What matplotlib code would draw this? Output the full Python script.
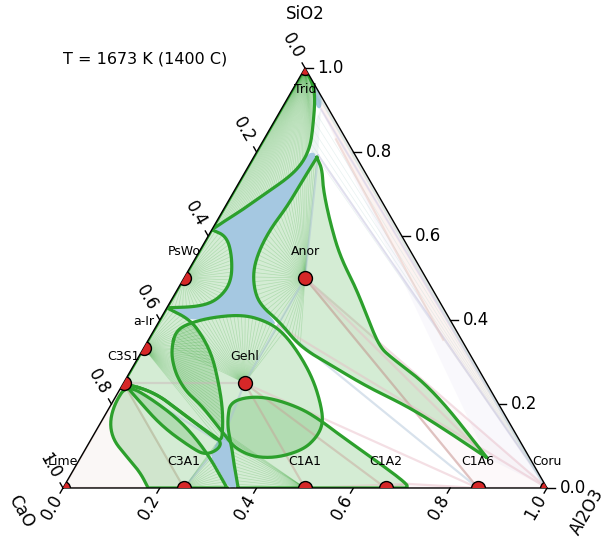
import numpy as np
import matplotlib.pyplot as plt
from matplotlib.patches import Polygon
from matplotlib.colors import to_rgba

H = np.sqrt(3) / 2

# stoichiometric phases: mole fraction of Al2O3 and SiO2 (balance CaO)
phase_names = ['Lime', 'C3S1', 'a-Ir', 'PsWo', 'Trid', 'Anor', 'Gehl',
               'C3A1', 'C1A1', 'C1A2', 'C1A6', 'Coru']
phase_al = [0.0, 0.0, 0.0, 0.0, 0.0, 0.25, 0.25, 0.25, 0.5, 2 / 3, 6 / 7, 1.0]
phase_si = [0.0, 0.25, 1 / 3, 0.5, 1.0, 0.5, 0.25, 0.0, 0.0, 0.0, 0.0, 0.0]

# liquid compositions at three-phase corners
liq_top = (0.082, 0.902)
liq_tip = (0.131, 0.792)
liq_ga = (0.251, 0.387)
liq_chan = (0.273, 0.107)
liq_c1a2 = (0.706, 0.010)
liq_c1a6 = (0.840, 0.072)

# solid + liquid regions (Al2O3, SiO2); open curves are closed along a side
trid_lens = [(0.0, 1.0), (0.036, 0.961), (0.058, 0.926), (0.086, 0.861), (0.104, 0.814),
             (0.108, 0.775), (0.098, 0.742), (0.070, 0.704), (0.040, 0.663), (0.019, 0.639),
             (0.0, 0.615)]
pswo_lens = [(0.0, 0.615), (0.039, 0.599), (0.075, 0.549), (0.103, 0.489), (0.096, 0.449),
             (0.067, 0.432), (0.0, 0.429)]
anor_left = [(0.131, 0.787), (0.129, 0.735), (0.128, 0.670), (0.120, 0.616), (0.123, 0.561),
             (0.136, 0.513), (0.164, 0.465), (0.195, 0.432), (0.252, 0.394), (0.322, 0.336),
             (0.414, 0.289), (0.508, 0.241), (0.622, 0.191), (0.734, 0.131), (0.840, 0.072)]
anor_right = [(0.131, 0.787), (0.156, 0.759), (0.182, 0.711), (0.236, 0.632), (0.297, 0.551),
              (0.371, 0.472), (0.440, 0.389), (0.487, 0.336), (0.519, 0.313), (0.648, 0.234),
              (0.840, 0.072)]
gehl_lens = [(0.057, 0.336), (0.047, 0.370), (0.058, 0.389), (0.101, 0.406), (0.166, 0.413),
             (0.224, 0.396), (0.270, 0.370), (0.331, 0.317), (0.388, 0.258), (0.434, 0.198),
             (0.460, 0.155), (0.464, 0.122), (0.451, 0.091), (0.406, 0.072), (0.356, 0.074),
             (0.308, 0.095), (0.276, 0.122), (0.229, 0.162), (0.183, 0.200), (0.143, 0.227),
             (0.103, 0.265), (0.073, 0.305)]
c1a1_lens = [(0.362, 0.0), (0.326, 0.055), (0.304, 0.091), (0.272, 0.138), (0.256, 0.169),
             (0.244, 0.203), (0.272, 0.217), (0.320, 0.215), (0.394, 0.191), (0.450, 0.162),
             (0.509, 0.126), (0.611, 0.067), (0.706, 0.010), (0.711, 0.0)]
air_lens = [(0.0, 0.429), (0.062, 0.401), (0.109, 0.360), (0.152, 0.313), (0.191, 0.258),
            (0.230, 0.198), (0.259, 0.143), (0.273, 0.107), (0.224, 0.138), (0.156, 0.179),
            (0.077, 0.227), (0.0, 0.25)]
c3s1_lens = [(0.0, 0.25), (0.077, 0.227), (0.156, 0.179), (0.224, 0.138), (0.272, 0.112),
             (0.275, 0.091), (0.254, 0.079), (0.219, 0.095), (0.132, 0.146), (0.050, 0.210)]
c3a1_lens = [(0.339, 0.0), (0.256, 0.084), (0.170, 0.155), (0.081, 0.210), (0.009, 0.246),
             (0.006, 0.203), (0.018, 0.157), (0.046, 0.115), (0.089, 0.079), (0.140, 0.038),
             (0.176, 0.0)]

# single-phase liquid
liquid_main = [(0.0, 0.615), (0.019, 0.639), (0.040, 0.663), (0.070, 0.704), (0.098, 0.742),
               (0.108, 0.775), (0.110, 0.802), (0.131, 0.792), (0.129, 0.735), (0.128, 0.670),
               (0.120, 0.616), (0.123, 0.561), (0.136, 0.513), (0.164, 0.465), (0.195, 0.432),
               (0.251, 0.387), (0.224, 0.396), (0.166, 0.413), (0.101, 0.406), (0.063, 0.398),
               (0.0, 0.429), (0.067, 0.432), (0.096, 0.449), (0.103, 0.489), (0.075, 0.549),
               (0.039, 0.599)]
liquid_top = [(0.039, 0.959), (0.054, 0.949), (0.072, 0.926), (0.082, 0.902), (0.069, 0.907),
              (0.052, 0.938)]
liquid_chan = [(0.264, 0.122), (0.274, 0.134), (0.304, 0.091), (0.332, 0.043), (0.362, 0.0),
               (0.341, 0.0), (0.296, 0.048), (0.267, 0.074), (0.263, 0.103)]

# silica-alumina side band and the alumina + liquid field
side_band = [(0.0, 1.0), (0.082, 0.902), (0.149, 0.830), (0.609, 0.353), (1.0, 0.0)]
coru_field = [(0.082, 0.902), (0.149, 0.830), (0.609, 0.353), (1.0, 0.0), (0.840, 0.072)]
coru_liq = [(0.082, 0.902), (0.131, 0.792), (0.110, 0.802), (0.086, 0.861)]

P = {n: (a, s) for n, a, s in zip(phase_names, phase_al, phase_si)}

# three-phase triangles
three_phase = [
    (P['Lime'], P['C3S1'], P['C3A1'], '#c8a096'),
    (P['Anor'], P['C1A6'], P['Coru'], '#e7b9c4'),
    (P['C1A2'], liq_c1a2, P['C1A6'], '#e7b9c4'),
]
tie_lines = [
    (P['C3S1'], liq_chan, '#a9bfd6'), (P['C3A1'], liq_chan, '#a9bfd6'),
    (P['C3S1'], P['Gehl'], '#c9b3b8'), (P['Gehl'], liq_chan, '#a9bfd6'),
    (P['Gehl'], P['C1A1'], '#c8a096'), (P['Gehl'], P['Anor'], '#a9bfd6'),
    (P['Gehl'], P['C1A6'], '#e7b9c4'), (P['Gehl'], P['C1A2'], '#c8a096'),
    (P['Anor'], liq_tip, '#a9bfd6'), (P['Anor'], P['C1A6'], '#c8a096'),
    (liq_ga, P['C1A6'], '#a9bfd6'), (liq_ga, P['Coru'], '#e7b9c4'),
    (P['Anor'], liq_c1a6, '#e7b9c4'), (P['C1A1'], liq_c1a2, '#e7b9c4'),
    (liq_tip, P['Coru'], '#d3c8e8'), (liq_top, P['Coru'], '#d3c8e8'),
    ((0.149, 0.830), (0.609, 0.353), '#e7c3bb'), ((0.03, 0.965), (0.985, 0.012), '#bcd9d6'),
]


def xy(pts):
    a = np.asarray(pts, dtype=float).reshape(-1, 2)
    return np.column_stack([a[:, 0] + a[:, 1] / 2, a[:, 1] * H])


def smooth(pts, closed=False, n=4):
    p = xy(pts)
    for _ in range(n):
        a = p if closed else p[:-1]
        b = np.roll(p, -1, axis=0) if closed else p[1:]
        q = np.empty((2 * len(a), 2))
        q[0::2] = 0.75 * a + 0.25 * b
        q[1::2] = 0.25 * a + 0.75 * b
        p = q if closed else np.vstack([p[:1], q, p[-1:]])
    return p


def along(p, n):
    d = np.r_[0, np.cumsum(np.hypot(*np.diff(p, axis=0).T))]
    t = np.linspace(0, d[-1], n)
    return np.column_stack([np.interp(t, d, p[:, 0]), np.interp(t, d, p[:, 1])])


fig = plt.figure(figsize=(6.08, 5.39), dpi=100)
ax = fig.add_axes([63 / 608, 51 / 539, 484 / 608, 420 / 539])
ax.set_xlim(0, 1)
ax.set_ylim(0, H)
ax.axis('off')

tri = Polygon([(0, 0), (1, 0), (0.5, H)], closed=True, transform=ax.transData,
              facecolor='none', edgecolor='none')
ax.add_patch(tri)
GREEN = '#2ca02c'


def clip(artists):
    for a in artists:
        a.set_clip_path(tri)


def fill(p, color, alpha, z):
    patch = Polygon(p, closed=True, facecolor=to_rgba(color, alpha), edgecolor='none',
                    zorder=z)
    ax.add_patch(patch)
    patch.set_clip_path(tri)


def outline(p):
    p = np.vstack([p, p[:1]])
    clip(ax.plot(p[:, 0], p[:, 1], color=GREEN, lw=2.3, zorder=6,
                 solid_joinstyle='round'))


def fan(origin, curve, n, alpha=0.22, color=GREEN):
    o = xy([origin])[0]
    for q in along(curve, n):
        clip(ax.plot([o[0], q[0]], [o[1], q[1]], color=color, lw=0.5,
                     alpha=alpha, zorder=3))


# faint background fields
fill(xy(side_band), '#f4c9c0', 0.22, 1)
fill(xy(coru_field), '#e4def2', 0.2, 1)
fill(xy(coru_liq), '#bcd9d6', 0.25, 1)
fan(P['Coru'], smooth([liq_top, (0.086, 0.861), (0.110, 0.802), liq_tip]), 8,
    0.35, '#bcd9d6')
for a, b, c, col in three_phase:
    fill(xy([a, b, c]), col, 0.08, 1)
    p = xy([a, b, c, a])
    clip(ax.plot(p[:, 0], p[:, 1], color=col, lw=1.6, alpha=0.45, zorder=2))
for a, b, col in tie_lines:
    p = xy([a, b])
    clip(ax.plot(p[:, 0], p[:, 1], color=col, lw=1.6, alpha=0.45, zorder=4))

# liquid
for pts in (liquid_main, liquid_top, liquid_chan):
    fill(smooth(pts, closed=True, n=2), '#1f77b4', 0.4, 2)

# solid + liquid regions
trid_p = smooth(trid_lens)
pswo_p = smooth(pswo_lens)
anor_p = np.vstack([smooth(anor_right), smooth(anor_left)[::-1]])
gehl_p = smooth(gehl_lens, closed=True)
c1a1_p = smooth(c1a1_lens)
air_p = smooth(air_lens)
c3s1_p = smooth(c3s1_lens, closed=True)
c3a1_p = smooth(c3a1_lens)
for p in (trid_p, pswo_p, anor_p, gehl_p, c1a1_p, air_p, c3s1_p, c3a1_p):
    fill(p, GREEN, 0.2, 3)
    outline(p)

fan(P['Trid'], trid_p[1:], 70, 0.2)
fan(P['PsWo'], pswo_p, 35)
fan(P['a-Ir'], smooth(air_lens[:8]), 40)
fan(P['Anor'], smooth(anor_left[:10]), 50)
fan(P['Gehl'], smooth(gehl_lens[:7]), 35)
fan(P['C3A1'], smooth(liquid_chan[5:]), 15)
fan(P['C1A1'], smooth(liquid_chan[:5]), 18)

# phases
pp = xy(list(zip(phase_al, phase_si)))
clip(ax.plot(pp[:, 0], pp[:, 1], 'o', ms=10, mfc='#d62728', mec='black', mew=1.0,
             zorder=8))
for name, (x, y) in zip(phase_names, pp):
    dy = -0.045 if y > 0.8 else 0.055
    ax.text(x, y + dy, name, ha='center', va='center', fontsize=9, zorder=9)

# frame
frame = np.array([(0, 0), (1, 0), (0.5, H), (0, 0)])
ax.plot(frame[:, 0], frame[:, 1], color='black', lw=1.0, zorder=7, clip_on=False)

ticks = np.linspace(0, 1, 6)
for t in ticks:
    lab = f'{t:.1f}'
    # Al2O3 along the bottom
    x0, y0 = t, 0.0
    d = np.array([-0.5, -H])
    ax.plot([x0, x0 + d[0] * 0.012], [y0, y0 + d[1] * 0.012], color='black', lw=1,
            clip_on=False)
    ax.text(x0 + d[0] * 0.046, y0 + d[1] * 0.046, lab, rotation=60, ha='center',
            va='center', fontsize=12)
    # SiO2 on the right
    x0, y0 = 1 - t / 2, t * H
    ax.plot([x0, x0 + 0.016], [y0, y0], color='black', lw=1, clip_on=False)
    ax.text(x0 + 0.026, y0, lab, ha='left', va='center', fontsize=12)
    # CaO on the left
    x0, y0 = (1 - t) / 2, (1 - t) * H
    d = np.array([-0.5, H])
    ax.plot([x0, x0 + d[0] * 0.012], [y0, y0 + d[1] * 0.012], color='black', lw=1,
            clip_on=False)
    ax.text(x0 + d[0] * 0.052, y0 + d[1] * 0.052, lab, rotation=-60, ha='center',
            va='center', fontsize=12)

ax.text(0.5, 0.977, 'SiO2', ha='center', va='center', fontsize=12)
ax.text(-0.087, -0.048, 'CaO', rotation=-60, ha='center', va='center', fontsize=12)
ax.text(1.083, -0.048, 'Al2O3', rotation=60, ha='center', va='center', fontsize=12)
ax.text(0.169, 0.884, 'T = 1673 K (1400 C)', ha='center', va='center', fontsize=11.5)

fig.savefig('out.png', dpi=100, facecolor='white')
